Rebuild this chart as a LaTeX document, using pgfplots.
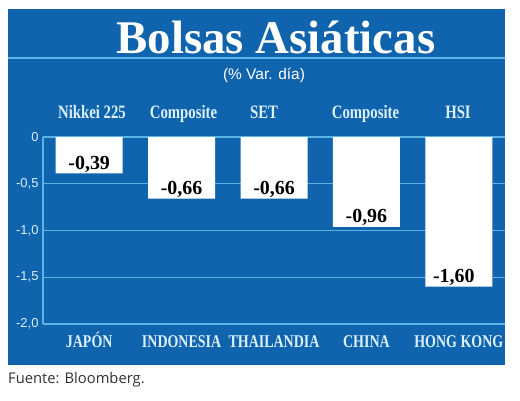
\documentclass[border=0pt]{standalone}
\usepackage{pgfplots}
\pgfplotsset{compat=1.18}
\usepackage{fontspec}
\setmainfont{Liberation Serif}
\newfontfamily\condf[FakeStretch=0.78]{Liberation Serif}
\newfontfamily\sansf{Liberation Sans}
\newfontfamily\fuentef{Open Sans}
\definecolor{bgblue}{RGB}{16,99,173}
\definecolor{gridblue}{RGB}{90,180,228}
\definecolor{pale}{RGB}{218,240,250}
\definecolor{fuente}{RGB}{50,50,50}
\begin{document}
\begin{tikzpicture}[x=1bp,y=1bp]
\useasboundingbox (0,0) rectangle (520,400);
\fill[white] (0,0) rectangle (520,400);
\fill[bgblue] (8,35) rectangle (505,391);
\draw[gridblue, line width=1.2bp] (8,342) -- (505,342);
\node[anchor=base, text=white, font=\bfseries\fontsize{47}{47}\selectfont] at (276,347) {Bolsas Asiáticas};
\node[anchor=base, text=white, font=\sansf\fontsize{15.5}{15.5}\selectfont] at (264,321) {(\% Var. día)};
\begin{scope}[font=\condf\bfseries\fontsize{19}{19}\selectfont, text=pale]
\node[anchor=base] at (92,282) {Nikkei 225};
\node[anchor=base] at (183.5,282) {Composite};
\node[anchor=base] at (264,282) {SET};
\node[anchor=base] at (365.5,282) {Composite};
\node[anchor=base] at (458,282) {HSI};
\end{scope}
\node[anchor=base west, inner sep=0pt, text=fuente, font=\fuentef\fontsize{14.8}{14.8}\selectfont] at (8,17) {Fuente: Bloomberg.};
\begin{axis}[
  at={(43bp,76bp)}, anchor=south west,
  scale only axis, width=462bp, height=187bp,
  xmin=-0.5, xmax=4.5, ymin=-2, ymax=0,
  clip=false,
  axis x line*=bottom, axis y line*=left,
  axis line style={gridblue, line width=1.2bp, -},
  ymajorgrids, grid style={gridblue, line width=1.2bp},
  major tick length=0pt,
  ytick={-2,-1.5,-1,-0.5,0},
  yticklabels={{-2,0},{-1,5},{-1,0},{-0,5},0},
  yticklabel style={font=\sansf\fontsize{13}{13}\selectfont, text=pale, anchor=east, xshift=-1bp},
  xtick={0,1,2,3,4},
  xticklabels={JAPÓN, INDONESIA, THAILANDIA, CHINA, HONG KONG},
  xticklabel style={font=\condf\bfseries\fontsize{18}{18}\selectfont, text=pale, anchor=base, yshift=-23bp},
  ybar, bar width=67bp, bar shift=0pt,
]
\addplot[fill=white, draw=none] coordinates {(0,-0.39) (1,-0.66) (2,-0.66) (3,-0.96) (4,-1.60)};
\begin{scope}[font=\bfseries\fontsize{20}{20}\selectfont, text=black]
\node[anchor=base, yshift=4bp] at (axis cs:0,-0.39) {-0,39};
\node[anchor=base, yshift=4bp] at (axis cs:1,-0.66) {-0,66};
\node[anchor=base, yshift=4bp] at (axis cs:2,-0.66) {-0,66};
\node[anchor=base, yshift=4bp] at (axis cs:3,-0.96) {-0,96};
\node[anchor=base, yshift=4bp, xshift=-5bp] at (axis cs:4,-1.60) {-1,60};
\end{scope}
\end{axis}
\end{tikzpicture}
\end{document}
